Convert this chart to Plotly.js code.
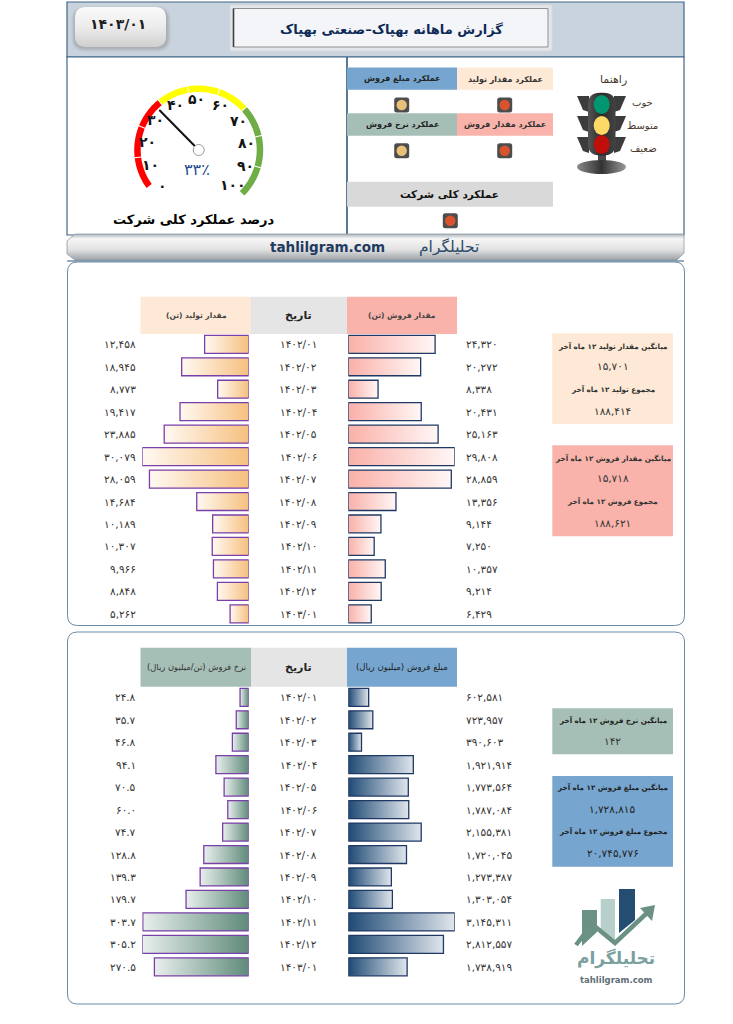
<!DOCTYPE html>
<html><head><meta charset="utf-8">
<script src="https://cdn.plot.ly/plotly-3.0.0.min.js"></script>
<style>html,body{margin:0;padding:0;background:#fff}#c{width:733px;height:1024px}</style>
</head><body><div id="c"></div>
<script>
const dates = ["1402/01","1402/02","1402/03","1402/04","1402/05","1402/06","1402/07","1402/08","1402/09","1402/10","1402/11","1402/12","1403/01"];
const production = [12458,18945,8773,19417,23885,30079,28059,14684,10189,10307,9966,8848,5262];
const sales = [24320,20272,8338,20431,25163,29808,28859,13356,9144,7250,10357,9214,6429];
const rate = [24.8,35.7,46.8,94.1,70.5,60.0,74.7,128.8,139.3,179.7,303.7,305.2,270.5];
const amount = [602581,723957,390603,1921914,1773564,1787084,2155381,1720045,1273387,1303054,3145311,2812557,1738919];
const gaugeLabels = [0,10,20,30,40,50,60,70,80,90,100];
const gaugeValue = 33;

const W=733,H=1024;
const X=p=>p/W, Y=p=>1-p/H;
const fa=s=>String(s).replace(/[0-9]/g,d=>"۰۱۲۳۴۵۶۷۸۹"[+d]);
const th=n=>fa(String(n).replace(/\B(?=(\d{3})+$)/g,","));
const rtl=s=>"\u200f"+s+"\u200f";
const FONT="DejaVu Sans";
const shapes=[],ann=[];
function rect(x0,y0,x1,y1,fill,line,lw,layer){shapes.push({type:"rect",xref:"paper",yref:"paper",x0:X(x0),x1:X(x1),y0:Y(y0),y1:Y(y1),fillcolor:fill,line:{color:line||"rgba(0,0,0,0)",width:line?(lw||1):0},layer:layer||"below"});}
function circ(x0,y0,x1,y1,fill,line,lw){shapes.push({type:"circle",xref:"paper",yref:"paper",x0:X(x0),x1:X(x1),y0:Y(y0),y1:Y(y1),fillcolor:fill,line:{color:line||"rgba(0,0,0,0)",width:line?(lw||1):0},layer:"below"});}
function poly(pts,fill,line,lw,close){const d=pts.map((p,i)=>(i?"L":"M")+X(p[0])+","+Y(p[1])).join(" ")+(close===false?"":" Z");shapes.push({type:"path",xref:"paper",yref:"paper",path:d,fillcolor:fill||"rgba(0,0,0,0)",line:{color:line||"rgba(0,0,0,0)",width:line?(lw||1):0},layer:"below"});}
function rrect(x0,y0,x1,y1,r,fill,line,lw){const c=(a,b)=>X(a)+","+Y(b);
 const d=`M${c(x0+r,y0)} L${c(x1-r,y0)} Q${c(x1,y0)} ${c(x1,y0+r)} L${c(x1,y1-r)} Q${c(x1,y1)} ${c(x1-r,y1)} L${c(x0+r,y1)} Q${c(x0,y1)} ${c(x0,y1-r)} L${c(x0,y0+r)} Q${c(x0,y0)} ${c(x0+r,y0)} Z`;
 shapes.push({type:"path",xref:"paper",yref:"paper",path:d,fillcolor:fill,line:{color:line||"rgba(0,0,0,0)",width:line?(lw||1):0},layer:"below"});}
function T(t,x,y,size,color,bold,anchor){ann.push({text:t,xref:"paper",yref:"paper",x:X(x),y:Y(y),xanchor:anchor||"center",yanchor:"middle",showarrow:false,font:{family:FONT,size:size,color:color||"#333",weight:bold?700:400}});}

// sentinel fills swapped for gradients after drawing
const S={btn:"#010101",foot:"#010102",shadow:"#010103",tl:"#010105",base:"#010106"};

// header
rect(67,2,684,57,"#c9d3dd","#3f6688",1.2);
rrect(73,8,169,50,12,S.shadow);
rrect(75,7,166,47,11,S.btn);
T(fa("1403/01"),118,24,14,"#1c1c1c",true);
rect(230,5,552,51,"#e3e6ea","#d5d9de",1);
rect(233.5,8.5,548,47,"#f3f5f8","#8f8f8f",1);
poly([[233.5,8.5],[233.5,47]],null,"#404040",1.6,false);
T(rtl("گزارش ماهانه بهپاک–صنعتی بهپاک"),391,29,13,"#0e2a57",true);

// main block
rect(67,57,684,235,"#fff","#3f6688",1.2);
poly([[347,57],[347,235]],null,"#2f5878",1.6,false);

// gauge
const gc=[198.7,150],a0=-36,step=29;
function arc(a,b,r0,r1){const pts=[];for(let i=0;i<=16;i++){const t=(a+(b-a)*i/16)*Math.PI/180;pts.push([gc[0]-r1*Math.cos(t),gc[1]-r1*Math.sin(t)]);}
 for(let i=16;i>=0;i--){const t=(a+(b-a)*i/16)*Math.PI/180;pts.push([gc[0]-r0*Math.cos(t),gc[1]-r0*Math.sin(t)]);}return pts;}
for(let i=0;i<9;i++){const col=i<3?"#ff0000":i<6?"#ffff00":"#70ad47";poly(arc(a0+i*step+(i?0.45:0),a0+(i+1)*step-(i<8?0.45:0),58,64.5),col);}
const glPos=[[162.3,186],[150,165],[147,141.7],[155,120],[175,105],[196.7,99.3],[220,105],[238.3,120.7],[246.7,143.3],[245,165.7],[233,185]];
gaugeLabels.forEach((v,i)=>T(fa(v),glPos[i][0],glPos[i][1],14,"#141414",true));
poly([gc,[159.3,110]],null,"#111",2,false);
circ(193.2,144.5,204.2,155.5,"#fff","#9a9a9a",1);
T(fa(gaugeValue)+"٪",197,169,16,"#1f4e8c",false);
T(rtl("درصد عملکرد کلی شرکت"),194,219,13,"#000",true);

// performance boxes
rect(347,67.5,457,89.7,"#76a5d0"); T(rtl("عملکرد مبلغ فروش"),402,79,8,"#222",true);
rect(457,67.5,553,89.7,"#fde9d5"); T(rtl("عملکرد مقدار تولید"),505,79,8,"#333",true);
rect(347,113.3,457,135.7,"#a6bfb6"); T(rtl("عملکرد نرخ فروش"),402,125,8,"#222",true);
rect(457,113.3,553,135.7,"#f9b3ab"); T(rtl("عملکرد مقدار فروش"),505,125,8,"#333",true);
rect(347,181.7,553,206.7,"#d9d9d9"); T(rtl("عملکرد کلی شرکت"),450,194,10.5,"#111",true);
[[401.7,105,"#e8c07a"],[504.7,105,"#d9532c"],[401.7,150.7,"#e8c07a"],[504.7,150.7,"#d9532c"],[450.3,220.7,"#d9532c"]].forEach(l=>{
 rrect(l[0]-7.5,l[1]-7.5,l[0]+7.5,l[1]+7.5,2.5,"#4d4d4d");
 circ(l[0]-5.2,l[1]-5.2,l[0]+5.2,l[1]+5.2,l[2]);
});

// traffic light
[[96,112],[116,132],[137,153]].forEach(r=>{
 poly([[577,r[0]],[589,r[0]],[589,r[1]],[583,r[1]-2]],"#3c3c3c");
 poly([[626,r[0]],[614,r[0]],[614,r[1]],[620,r[1]-2]],"#3c3c3c");
});
rect(598,150,606,166,"#4a4a4a");
circ(577,160,626,174,S.base);
rrect(588,92.7,615.5,155.5,12,S.tl);
circ(593.7,95,609.7,114,"#009670");
circ(593.7,116,609.7,135,"#ffd966");
circ(593.7,135,609.7,154,"#c00f0b");
T(rtl("راهنما"),613,79,11,"#4a3a30");
T(rtl("خوب"),642.7,102,10,"#4a3a30");
T(rtl("متوسط"),642.7,125,10,"#4a3a30");
T(rtl("ضعیف"),643,148,10,"#4a3a30");

// footer band
poly([[67,241],[75,234],[684,234],[684,253],[677,260],[75,260],[67,254]],S.foot,"#8e99a3",0.8);
poly([[67,261],[684,261]],null,"#2f5878",1.2,false);
T("tahlilgram.com",327,247,13.5,"#1f3a5f",true);
T(rtl("تحلیلگرام"),449,246.5,15.5,"#2a4a6a",false);

// panels
rrect(67.5,262,684.5,625.5,10,"#fff","#6d8ba6",1);
rrect(67.5,632,684.5,1004,10,"#fff","#6d8ba6",1);

// table headers
rect(140.5,296.7,251,334,"#fde9d5"); T(rtl("مقدار تولید (تن)"),196,315,7.5,"#444",true);
rect(251,296.7,347,334,"#e5e5e5"); T(rtl("تاریخ"),298,315,11,"#222",true);
rect(347,296.7,457,334,"#f9b3ab"); T(rtl("مقدار فروش (تن)"),402,315,7.5,"#444",true);
rect(140.5,647.7,251,686.7,"#a6bfb6"); T(rtl("نرخ فروش (تن/میلیون ریال)"),196,667,8.4,"#333",false);
rect(251,647.7,347,686.7,"#e5e5e5"); T(rtl("تاریخ"),298,667,11,"#222",true);
rect(347,647.7,457,686.7,"#76a5d0"); T(rtl("مبلغ فروش (میلیون ریال)"),402,667,8.6,"#222",false);

// side stat boxes
const sx=612.7,sz=7.2;
rect(552.3,333.3,673,424,"#fde9d5");
T(rtl("میانگین مقدار تولید ۱۲ ماه آخر"),sx,346,sz,"#333",true);T(th(15701),sx,366,10.5,"#333",false);
T(rtl("مجموع تولید ۱۲ ماه آخر"),sx,389,sz,"#333",true);T(th(188414),sx,410.7,10.5,"#333",false);
rect(552.3,445.3,673,536.3,"#f9b3ab");
T(rtl("میانگین مقدار فروش ۱۲ ماه آخر"),sx,458.3,sz,"#333",true);T(th(15718),sx,478,10.5,"#333",false);
T(rtl("مجموع فروش ۱۲ ماه آخر"),sx,501,sz,"#333",true);T(th(188621),sx,523,10.5,"#333",false);
rect(552.3,708.3,673,754.3,"#a6bfb6");
T(rtl("میانگین نرخ فروش ۱۲ ماه آخر"),sx,720,sz,"#222",true);T(th(142),sx,741.3,10.5,"#333",false);
rect(552.3,776,673,866.7,"#76a5d0");
T(rtl("میانگین مبلغ فروش ۱۲ ماه آخر"),sx,787.3,sz,"#222",true);T(th(1728815),sx,808.7,10.5,"#222",false);
T(rtl("مجموع مبلغ فروش ۱۲ ماه آخر"),sx,831.7,sz,"#222",true);T(th(20745776),sx,852.7,10.5,"#222",false);

// logo
poly([[582,910],[597,910],[597,932],[582,946]],"#6a9184");
poly([[600.7,899],[615,899],[615,942],[608,938],[600.7,932]],"#b8d0cc");
poly([[619,889],[635,889],[635,920],[619,933]],"#254d72");
poly([[576,945],[592,924],[615,943],[648,912]],null,"#6a9184",4.5,false);
poly([[655,905],[640,908],[652,921]],"#6a9184");
T(rtl("تحلیلگرام"),616,958,17,"#7ba0a0",true);
T("tahlilgram.com",616,980,8.5,"#5f6f76",true);

// value labels bound to the bar rows
function colLabel(vals,yr,x,anchor,fmt){vals.forEach((v,i)=>ann.push({text:fmt(v),xref:"paper",yref:yr,x:X(x),y:dates[i],xanchor:anchor,yanchor:"middle",showarrow:false,font:{family:FONT,size:10.5,color:"#333",weight:400}}));}
colLabel(production,"y",137.5,"right",th);
colLabel(dates,"y",298,"center",fa);
colLabel(sales,"y",464,"left",th);
const r1=v=>fa(v.toFixed(1));
colLabel(rate,"y3",137.5,"right",r1);
colLabel(dates,"y3",298,"center",fa);
colLabel(amount,"y3",464,"left",th);

const band=22.46;
const dom=top=>[Y(top+13*band),Y(top)];
const topA=333.07,topB=686.07;
const xL=[X(142.3),X(248.7)],xR=[X(348.3),X(454.7)];
const bar=(vals,xa,ya,lc)=>({type:"bar",orientation:"h",x:vals,y:dates,xaxis:xa,yaxis:ya,width:0.8,hoverinfo:"skip",cliponaxis:false,marker:{color:"#ddd",line:{color:lc,width:1.3}}});
const data=[
 bar(production,"x","y","#7a3fa8"),
 bar(sales,"x2","y2","#1f3864"),
 bar(rate,"x3","y3","#7a3fa8"),
 bar(amount,"x4","y4","#1f3864")
];
const ax=o=>Object.assign({visible:false,fixedrange:true,showgrid:false,zeroline:false},o);
const ycat=(d)=>ax({domain:d,type:"category",categoryorder:"array",categoryarray:dates,range:[12.5,-0.5]});
const layout={width:W,height:H,margin:{l:0,r:0,t:0,b:0},paper_bgcolor:"#fff",plot_bgcolor:"rgba(0,0,0,0)",showlegend:false,
 bargap:0.2,shapes:shapes,annotations:ann,
 xaxis:ax({domain:xL,range:[Math.max(...production),0],anchor:"y"}),
 yaxis:ycat(dom(topA)),
 xaxis2:ax({domain:xR,range:[0,Math.max(...sales)],anchor:"y2"}),
 yaxis2:Object.assign(ycat(dom(topA)),{anchor:"x2"}),
 xaxis3:ax({domain:xL,range:[Math.max(...rate),0],anchor:"y3"}),
 yaxis3:Object.assign(ycat(dom(topB)),{anchor:"x3"}),
 xaxis4:ax({domain:xR,range:[0,Math.max(...amount)],anchor:"y4"}),
 yaxis4:Object.assign(ycat(dom(topB)),{anchor:"x4"})
};
layout.yaxis.anchor="x";

const NS="http://www.w3.org/2000/svg";
function lg(defs,id,stops,vert){const g=document.createElementNS(NS,"linearGradient");g.setAttribute("id",id);g.setAttribute("x1","0");g.setAttribute("y1","0");g.setAttribute("x2",vert?"0":"1");g.setAttribute("y2",vert?"1":"0");
 stops.forEach(s=>{const st=document.createElementNS(NS,"stop");st.setAttribute("offset",s[0]);st.setAttribute("stop-color",s[1]);g.appendChild(st);});defs.appendChild(g);}
Plotly.newPlot("c",data,layout,{displayModeBar:false,staticPlot:true}).then(gd=>{
 const svg=gd.querySelector("svg.main-svg");
 const defs=document.createElementNS(NS,"defs");svg.insertBefore(defs,svg.firstChild);
 lg(defs,"gProd",[[0,"#fff9f2"],[1,"#f6c07f"]]);
 lg(defs,"gSale",[[0,"#fab0a8"],[1,"#fff7f6"]]);
 lg(defs,"gRate",[[0,"#e9efed"],[1,"#5f8b7a"]]);
 lg(defs,"gAmt",[[0,"#1f4a75"],[1,"#e0e6ec"]]);
 lg(defs,"gBtn",[[0,"#fafafa"],[0.5,"#ececec"],[1,"#cfcfcf"]],true);
 lg(defs,"gFoot",[[0,"#aab3bb"],[0.18,"#f6f6f6"],[0.6,"#e2e2e2"],[1,"#9da3a8"]],true);
 lg(defs,"gTl",[[0,"#555"],[0.5,"#2a2a2a"],[1,"#444"]]);
 lg(defs,"gBase",[[0,"#8a8a8a"],[0.5,"#333"],[1,"#9a9a9a"]]);
 const blur=document.createElementNS(NS,"filter");blur.setAttribute("id","fBlur");
 const fe=document.createElementNS(NS,"feGaussianBlur");fe.setAttribute("stdDeviation","1.6");blur.appendChild(fe);defs.appendChild(blur);
 const ids=["gProd","gSale","gRate","gAmt"];
 gd.querySelectorAll(".barlayer .trace.bars").forEach((t,i)=>{t.querySelectorAll(".point path").forEach(p=>{p.style.fill="url(#"+ids[i]+")";p.style.fillOpacity=1;});});
 const map={"rgb(1, 1, 1)":"url(#gBtn)","rgb(1, 1, 2)":"url(#gFoot)","rgb(1, 1, 5)":"url(#gTl)","rgb(1, 1, 6)":"url(#gBase)"};
 gd.querySelectorAll(".shapelayer path").forEach(p=>{const f=p.style.fill;
  if(map[f])p.style.fill=map[f];
  else if(f==="rgb(1, 1, 3)"){p.style.fill="#a8aeb4";p.setAttribute("filter","url(#fBlur)");}
 });
});
</script></body></html>
